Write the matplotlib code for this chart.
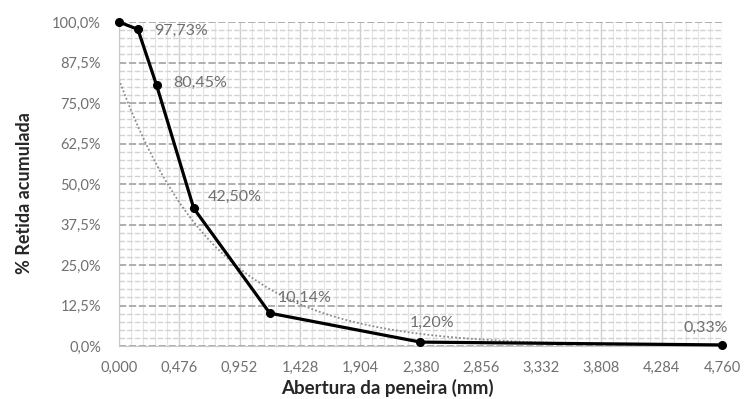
import numpy as np
import matplotlib
matplotlib.use("Agg")
import matplotlib.pyplot as plt
from matplotlib.ticker import FixedLocator, MultipleLocator, FuncFormatter

# data
abertura = [0.0, 0.149, 0.297, 0.59, 1.19, 2.38, 4.76]
retida = [100.0, 97.73, 80.45, 42.50, 10.14, 1.20, 0.33]
labels = ["", "97,73%", "80,45%", "42,50%", "10,14%", "1,20%", "0,33%"]
x_ticks = [0.000, 0.476, 0.952, 1.428, 1.904, 2.380, 2.856, 3.332, 3.808, 4.284, 4.760]
y_ticks = [0.0, 12.5, 25.0, 37.5, 50.0, 62.5, 75.0, 87.5, 100.0]

plt.rcParams['font.family'] = ['Lato', 'DejaVu Sans']

fig = plt.figure(figsize=(7.44, 3.99), dpi=100)
ax = fig.add_axes([119/744, 1-346/399, (722-119)/744, (346-22)/399])

ax.set_xlim(0, 4.76)
ax.set_ylim(0, 100)

# grid
ax.xaxis.set_major_locator(FixedLocator(x_ticks))
ax.xaxis.set_minor_locator(MultipleLocator(0.476/5))
ax.yaxis.set_major_locator(FixedLocator(y_ticks))
ax.yaxis.set_minor_locator(MultipleLocator(2.5))
ax.grid(which='major', axis='x', color='#d0d0d0', lw=1.0, ls='-')
ax.grid(which='minor', axis='x', color='#e4e4e4', lw=0.8, ls='-')
ax.grid(which='major', axis='y', color='#a8a8a8', lw=1.3, ls=(0, (4, 1.5)))
ax.grid(which='minor', axis='y', color='#d2d2d2', lw=1.0, ls=(0, (4, 1.5)))
ax.set_axisbelow(True)
for s in ['top', 'right']:
    ax.spines[s].set_visible(False)
ax.spines['left'].set_color('#c8c8c8')
ax.spines['bottom'].set_color('#c8c8c8')
ax.tick_params(which='both', length=0)
ax.tick_params(axis='both', colors='#707070', labelsize=10.5)
ax.tick_params(axis='y', pad=13)
ax.tick_params(axis='x', pad=11)

ax.xaxis.set_major_formatter(FuncFormatter(lambda v, p: f"{v:.3f}".replace('.', ',')))
ax.yaxis.set_major_formatter(FuncFormatter(lambda v, p: f"{v:.1f}%".replace('.', ',')))

# exponential trendline fitted to the data (as Excel does)
xa = np.array(abertura)
ya = np.array(retida)
b, lna = np.polyfit(xa, np.log(ya), 1)
xt = np.linspace(0, 4.76, 300)
ax.plot(xt, np.exp(lna) * np.exp(b * xt), color='#8c8c8c', lw=1.3, ls=(0, (1, 1.2)), zorder=2)

ax.plot(abertura, retida, color='black', lw=2.3, marker='o', ms=5.5, zorder=3, clip_on=False)

offsets = [(0, 0), (12, -1), (12, 2), (10, 8), (6, 11), (-8, 14), (4, 12)]
aligns = ['left', 'left', 'left', 'left', 'left', 'left', 'right']
for x, y, t, off, ha in zip(abertura, retida, labels, offsets, aligns):
    if t:
        ax.annotate(t, (x, y), xytext=off, textcoords='offset points',
                    ha=ha, va='center', fontsize=11.5, color='#707070',
                    annotation_clip=False)

ax.set_xlabel("Abertura da peneira (mm)", fontsize=13.5, fontweight='bold', color='#262626')
ax.xaxis.set_label_coords((387-119)/(722-119), (346-379)/(346-22))
ax.set_ylabel("% Retida acumulada", fontsize=13, fontweight='bold', color='#262626')
ax.yaxis.set_label_coords((33-119)/(722-119), (346-193)/(346-22))

fig.savefig("out.png", dpi=100)
